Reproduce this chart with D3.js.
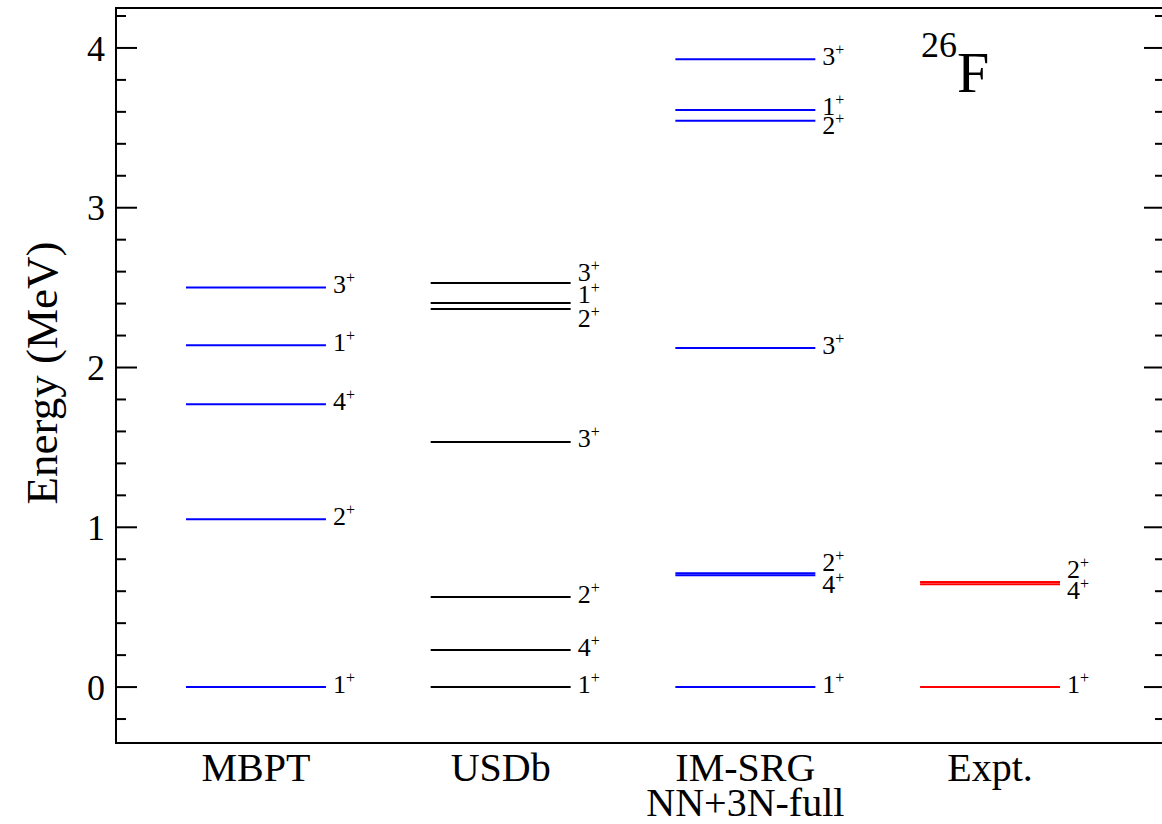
<!DOCTYPE html>
<html>
<head>
<meta charset="utf-8">
<script src="https://cdn.jsdelivr.net/npm/d3@7"></script>
<style>
  html, body { margin: 0; padding: 0; background: #fff; }
  svg { display: block; }
  text { font-family: "Liberation Serif", "Times New Roman", Times, serif; fill: #000; }
</style>
</head>
<body>
<svg id="chart" width="1162" height="824" font-family="Liberation Serif, Times New Roman, Times, serif"></svg>
<script>
// ---- data ----
const categories = ["MBPT", "USDb", "IM-SRG\nNN+3N-full", "Expt."];
const seriesColors = ["#0000ff", "#000000", "#0000ff", "#ff0000"];
const mbptEnergies  = [0.0, 1.05, 1.77, 2.14, 2.50];
const mbptSpins     = ["1", "2", "4", "1", "3"];
const usdbEnergies  = [0.0, 0.232, 0.563, 1.534, 2.366, 2.404, 2.529];
const usdbSpins     = ["1", "4", "2", "3", "2", "1", "3"];
const imsrgEnergies = [0.0, 0.700, 0.712, 2.122, 3.545, 3.612, 3.929];
const imsrgSpins    = ["1", "4", "2", "3", "2", "1", "3"];
const exptEnergies  = [0.0, 0.643, 0.657];
const exptSpins     = ["1", "4", "2"];
// label vertical nudges (px) to separate crowded labels
const usdbNudge  = [0, 0, 0, 0, 12, -5, -7];
const imsrgNudge = [0, 12, -8, 0, 8, 0, 0];
const exptNudge  = [0, 9, -10];
const mbptNudge  = [0, 0, 0, 0, 0];
const yTicks = [0, 1, 2, 3, 4];
const yLabel = "Energy (MeV)";
const nucleusMass = "26";
const nucleusSymbol = "F";

const columns = [
  { e: mbptEnergies,  s: mbptSpins,  n: mbptNudge },
  { e: usdbEnergies,  s: usdbSpins,  n: usdbNudge },
  { e: imsrgEnergies, s: imsrgSpins, n: imsrgNudge },
  { e: exptEnergies,  s: exptSpins,  n: exptNudge }
];

// ---- layout ----
const L = 116, R = 1165, T = 8, B = 743;
const svg = d3.select("#chart");
const y = d3.scaleLinear().domain([-0.35, 4.25]).range([B, T]);
const x = d3.scaleLinear().domain([-0.572, 3.715]).range([L, R]);
const halfW = 0.286;

// frame
svg.append("rect").attr("x", L).attr("y", T).attr("width", R - L).attr("height", B - T)
  .attr("fill", "none").attr("stroke", "#000").attr("stroke-width", 2);

// ticks (left and right, inward)
const minor = d3.range(-0.2, 4.25, 0.2).map(v => Math.round(v * 10) / 10);
minor.forEach(v => {
  const major = Math.abs(v - Math.round(v)) < 1e-6;
  const len = major ? 21 : 10;
  svg.append("line").attr("x1", L).attr("x2", L + len).attr("y1", y(v)).attr("y2", y(v))
    .attr("stroke", "#000").attr("stroke-width", 2);
  svg.append("line").attr("x1", R).attr("x2", R - len).attr("y1", y(v)).attr("y2", y(v))
    .attr("stroke", "#000").attr("stroke-width", 2);
});
svg.selectAll("text.ytick").data(yTicks).enter().append("text")
  .attr("class", "ytick")
  .attr("x", 105).attr("y", d => y(d)).attr("dy", "0.35em")
  .attr("text-anchor", "end").attr("font-size", 36).text(d => d);

// y label
svg.append("text").attr("transform", `translate(57,373) rotate(-90)`)
  .attr("text-anchor", "middle").attr("font-size", 45).text(yLabel);

// category labels
categories.forEach((c, i) => {
  const lines = c.split("\n");
  const t = svg.append("text").attr("x", x(i)).attr("y", 781)
    .attr("text-anchor", "middle").attr("font-size", 40);
  lines.forEach((ln, k) => {
    t.append("tspan").attr("x", x(i)).attr("dy", k === 0 ? 0 : 35).text(ln);
  });
});

// levels
columns.forEach((col, i) => {
  const g = svg.append("g");
  col.e.forEach((e, k) => {
    g.append("line")
      .attr("x1", x(i - halfW)).attr("x2", x(i + halfW))
      .attr("y1", y(e)).attr("y2", y(e))
      .attr("stroke", seriesColors[i]).attr("stroke-width", 2);
    const t = g.append("text")
      .attr("x", x(i + halfW) + 7)
      .attr("y", y(e) + 5.5 + col.n[k])
      .attr("font-size", 26);
    t.append("tspan").text(col.s[k]);
    t.append("tspan").attr("font-size", 16).attr("dy", -10).text("+");
  });
});

// nucleus label
const nt = svg.append("text").attr("x", 921).attr("y", 92);
nt.append("tspan").attr("font-size", 36).attr("dy", -35).text(nucleusMass);
nt.append("tspan").attr("font-size", 58).attr("dy", 35).text(nucleusSymbol);
</script>
</body>
</html>
